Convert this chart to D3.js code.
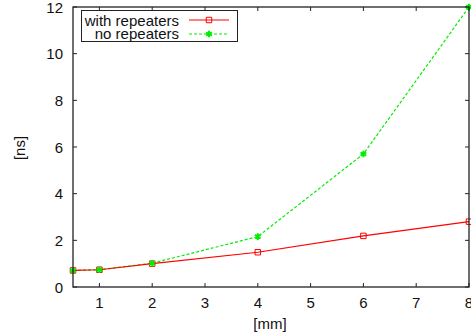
<!DOCTYPE html>
<html>
<head>
<meta charset="utf-8">
<script src="https://cdn.jsdelivr.net/npm/d3@7"></script>
<style>
  body { margin: 0; background: #fff; }
  svg { display: block; font-family: "Liberation Sans", Arial, sans-serif; }
</style>
</head>
<body>
<div id="chart"></div>
<script>
const lengths = [0.5, 1, 2, 4, 6, 8];
const withRepeaters = [0.71, 0.74, 1.0, 1.49, 2.19, 2.8];
const noRepeaters = [0.71, 0.74, 1.02, 2.16, 5.7, 12];
const seriesNames = ['with repeaters', 'no repeaters'];
const xTicks = [1, 2, 3, 4, 5, 6, 7, 8];
const yTicks = [0, 2, 4, 6, 8, 10, 12];

const width = 471, height = 334;
const margin = { top: 7, right: 2, bottom: 47, left: 73 };
const w = width - margin.left - margin.right;
const h = height - margin.top - margin.bottom;
const fontSize = 15;

const svg = d3.select('#chart').append('svg')
  .attr('width', width)
  .attr('height', height);

const g = svg.append('g').attr('transform', `translate(${margin.left},${margin.top})`);

const x = d3.scaleLinear().domain([0.5, 8]).range([0, w]);
const y = d3.scaleLinear().domain([0, 12]).range([h, 0]);

const tickLen = 4;
const axisColor = '#222';

// inward ticks on all four sides
g.selectAll('line.xt-b').data(xTicks).enter().append('line')
  .attr('x1', d => x(d)).attr('x2', d => x(d))
  .attr('y1', h).attr('y2', h - tickLen)
  .attr('stroke', axisColor);
g.selectAll('line.xt-t').data(xTicks).enter().append('line')
  .attr('x1', d => x(d)).attr('x2', d => x(d))
  .attr('y1', 0).attr('y2', tickLen)
  .attr('stroke', axisColor);
g.selectAll('line.yt-l').data(yTicks).enter().append('line')
  .attr('x1', 0).attr('x2', tickLen)
  .attr('y1', d => y(d)).attr('y2', d => y(d))
  .attr('stroke', axisColor);
g.selectAll('line.yt-r').data(yTicks).enter().append('line')
  .attr('x1', w).attr('x2', w - tickLen)
  .attr('y1', d => y(d)).attr('y2', d => y(d))
  .attr('stroke', axisColor);

// tick labels
g.selectAll('text.xl').data(xTicks).enter().append('text')
  .attr('x', d => x(d)).attr('y', h + 21)
  .attr('text-anchor', 'middle')
  .attr('font-size', fontSize)
  .attr('fill', '#111')
  .text(d => d);
g.selectAll('text.yl').data(yTicks).enter().append('text')
  .attr('x', -10).attr('y', d => y(d) + 5.5)
  .attr('text-anchor', 'end')
  .attr('font-size', fontSize)
  .attr('fill', '#111')
  .text(d => d);

// axis titles
svg.append('text')
  .attr('x', 270).attr('y', 329)
  .attr('text-anchor', 'middle')
  .attr('font-size', fontSize)
  .attr('fill', '#111')
  .text('[mm]');
svg.append('text')
  .attr('transform', 'translate(25,148) rotate(-90)')
  .attr('text-anchor', 'middle')
  .attr('font-size', fontSize)
  .attr('fill', '#111')
  .text('[ns]');

const line = d3.line().x(d => x(d[0])).y(d => y(d[1]));
const redData = lengths.map((l, i) => [l, withRepeaters[i]]);
const greenData = lengths.map((l, i) => [l, noRepeaters[i]]);

const red = '#ff0000';
const green = '#00ee00';

const plot = g.append('g');

plot.append('path').datum(greenData)
  .attr('d', line)
  .attr('fill', 'none')
  .attr('stroke', green)
  .attr('stroke-width', 1.2)
  .attr('stroke-dasharray', '3,2');

plot.append('path').datum(redData)
  .attr('d', line)
  .attr('fill', 'none')
  .attr('stroke', red)
  .attr('stroke-width', 1.2);

const square = d3.symbol().type(d3.symbolSquare).size(30);
const star = d3.symbol().type(d3.symbolAsterisk).size(30);

plot.selectAll('path.rp').data(redData).enter().append('path')
  .attr('transform', d => `translate(${x(d[0])},${y(d[1])})`)
  .attr('d', square)
  .attr('fill', 'none')
  .attr('stroke', red)
  .attr('stroke-width', 1);

plot.selectAll('path.gp').data(greenData).enter().append('path')
  .attr('transform', d => `translate(${x(d[0])},${y(d[1])})`)
  .attr('d', star)
  .attr('fill', 'none')
  .attr('stroke', green)
  .attr('stroke-width', 2);

// frame
g.append('rect')
  .attr('x', 0).attr('y', 0).attr('width', w).attr('height', h)
  .attr('fill', 'none')
  .attr('stroke', axisColor)
  .attr('stroke-width', 1.3);

// legend
const lg = svg.append('g');
lg.append('rect')
  .attr('x', 81.5).attr('y', 10.5).attr('width', 156).attr('height', 31)
  .attr('fill', '#fff')
  .attr('stroke', axisColor)
  .attr('stroke-width', 1);

const legendColors = [red, green];
seriesNames.forEach((name, i) => {
  const cy = 20 + i * 14;
  lg.append('text')
    .attr('x', 179).attr('y', cy + 5.5 - i)
    .attr('text-anchor', 'end')
    .attr('font-size', fontSize)
    .attr('fill', '#111')
    .text(name);
  lg.append('line')
    .attr('x1', 189).attr('x2', 229)
    .attr('y1', cy).attr('y2', cy)
    .attr('stroke', legendColors[i])
    .attr('stroke-width', 1.2)
    .attr('stroke-dasharray', i === 1 ? '3,2' : null);
  lg.append('path')
    .attr('transform', `translate(209,${cy})`)
    .attr('d', i === 0 ? square : star)
    .attr('fill', 'none')
    .attr('stroke', legendColors[i])
    .attr('stroke-width', i === 0 ? 1 : 2);
});
</script>
</body>
</html>
